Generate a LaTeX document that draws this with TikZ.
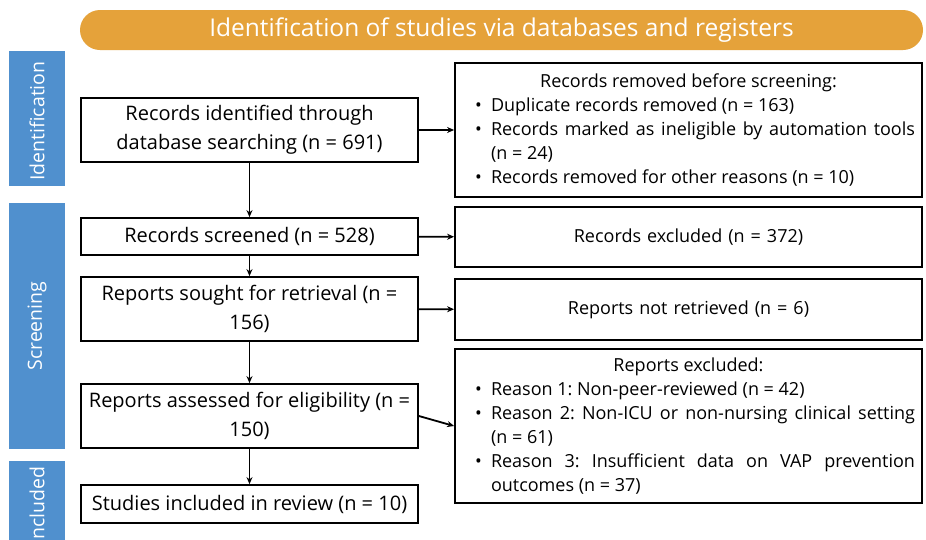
\documentclass[tikz,border=0pt]{standalone}
\usepackage{fontspec}
\setmainfont{Open Sans}
\usepackage{enumitem}
\usetikzlibrary{arrows.meta}
\definecolor{bannerorange}{RGB}{229,162,58}
\definecolor{phaseblue}{RGB}{80,144,206}
\frenchspacing

\begin{document}
\begin{tikzpicture}[x=1pt, y=-1pt,
    stagebox/.style={draw, line width=1.8pt, align=center, minimum width=337pt, font=\fontsize{20}{29}\selectfont},
    sidebox/.style={draw, line width=1.8pt, inner xsep=7pt, text width=453pt, align=justify, font=\fontsize{18}{24}\selectfont},
    phasebar/.style={fill=phaseblue, minimum width=56pt},
    phaselabel/.style={rotate=90, text=white, font=\fontsize{19.5}{22}\selectfont},
    flow/.style={-{Stealth[length=7pt, width=6pt]}, line width=1.8pt}]
    % Frame
    \useasboundingbox (0,0) rectangle (926,539);
    \clip (0,0) rectangle (926,539);
    \fill[white] (0,0) rectangle (926,539);

    % Banner
    \node[fill=bannerorange, rounded corners=20pt, minimum width=843pt, minimum height=40pt, text=white, font=\fontsize{24.5}{28}\selectfont] (banner) at (501.5,30) {Identification of studies via databases and registers};

    % Phase bars
    \node[phasebar, minimum height=135pt] (identbar) at (37,118.5) {};
    \node[phaselabel] (identlabel) at (37,121) {Identification};
    \node[phasebar, minimum height=246pt] (screenbar) at (37,326) {};
    \node[phaselabel] (screenlabel) at (37,326) {Screening};
    \node[phasebar, minimum height=120pt] (inclbar) at (37,521) {};
    \node[phaselabel] (incllabel) at (37,506) {Included};

    % Main column
    \node[stagebox, minimum height=64pt] (identified) at (249.5,130) {Records identified through\\database searching (n = 691)};
    \node[stagebox, minimum height=37pt] (screened) at (249.5,236.5) {Records screened (n = 528)};
    \node[stagebox, minimum height=64pt] (sought) at (249.5,309) {Reports sought for retrieval (n =\\156)};
    \node[stagebox, minimum height=64pt] (assessed) at (249.5,416) {Reports assessed for eligibility (n =\\150)};
    \node[stagebox, minimum height=38pt] (included) at (249.5,504) {Studies included in review (n = 10)};

    % Side column
    \node[sidebox, minimum height=134pt] (removed) at (688.5,130) {{\centering Records removed before screening:\par}
        \begin{itemize}[leftmargin=29pt, labelsep=9pt, itemsep=0pt, topsep=0pt, parsep=0pt, partopsep=0pt]
        \item Duplicate records removed (n = 163)
        \item Records marked as ineligible by automation tools\linebreak (n = 24)
        \item Records removed for other reasons (n = 10)
        \end{itemize}};
    \node[sidebox, align=center, minimum height=60pt] (excluded) at (688.5,237) {Records excluded (n = 372)};
    \node[sidebox, align=center, minimum height=61pt] (notretrieved) at (688.5,309.5) {Reports not retrieved (n = 6)};
    \node[sidebox, minimum height=154pt] (reportsexcl) at (688.5,426) {{\centering Reports excluded:\par}
        \begin{itemize}[leftmargin=29pt, labelsep=9pt, itemsep=0pt, topsep=0pt, parsep=0pt, partopsep=0pt]
        \item Reason 1: Non-peer-reviewed (n = 42)
        \item Reason 2: Non-ICU or non-nursing clinical setting\linebreak (n = 61)
        \item Reason 3: Insufficient data on VAP prevention\linebreak outcomes (n = 37)
        \end{itemize}};

    % Arrows
    \draw[flow] (identified) -- (screened);
    \draw[flow] (screened) -- (sought);
    \draw[flow] (sought) -- (assessed);
    \draw[flow] (assessed) -- (included);
    \draw[flow] (identified) -- (removed);
    \draw[flow] (screened) -- (excluded);
    \draw[flow] (sought) -- (notretrieved);
    \draw[flow] (assessed.east) -- (reportsexcl.west);
\end{tikzpicture}
\end{document}
